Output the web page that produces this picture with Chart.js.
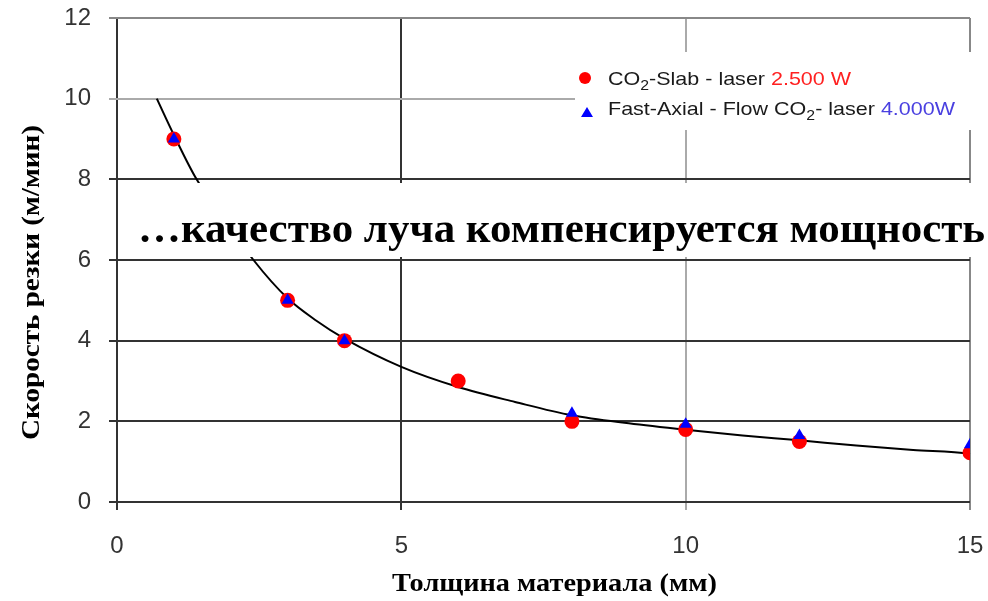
<!DOCTYPE html>
<html>
<head>
<meta charset="utf-8">
<script src="https://cdn.jsdelivr.net/npm/chart.js@4"></script>
<style>
  html, body { margin: 0; padding: 0; background: #fff; }
  #wrap { width: 988px; height: 601px; }
</style>
</head>
<body>
<div id="wrap"><canvas id="chart" width="988" height="601"></canvas></div>
<script>
// measured points (thickness mm, speed m/min)
const slabThickness = [1, 3, 4, 6, 8, 10, 12, 15];
const slabSpeed = [9, 5, 4, 3, 2, 1.8, 1.5, 1.22];
const axialThickness = [1, 3, 4, 8, 10, 12, 15];
const axialSpeed = [9, 5, 4, 2.2, 1.93, 1.65, 1.42];
// fitted curve
const fitThickness = [0.7, 1, 1.4, 2.4, 3, 3.5, 4, 5, 6, 7, 8, 9, 10, 11, 12, 13, 14, 15, 15.13];
const fitSpeed = [10, 9.1, 8.0, 6.0, 5.05, 4.5, 4.05, 3.35, 2.85, 2.48, 2.15, 1.95, 1.79, 1.65, 1.53, 1.4, 1.29, 1.19, 1.14];

const xTicks = [0, 5, 10, 15];
const yTicks = [0, 2, 4, 6, 8, 10, 12];

const xTitle = "Толщина материала (мм)";
const yTitle = "Скорость резки (м/мин)";
const overlayText = "…качество луча компенсируется мощность";

const toPoints = (xs, ys) => xs.map((x, i) => ({ x: x, y: ys[i] }));

// grid line colours (some lines are lighter in the original)
const xGrid = { 0: "#333", 5: "#333", 10: "#aaa", 15: "#888" };
const yGrid = { 0: "#333", 2: "#333", 4: "#333", 6: "#333", 8: "#333", 10: "#aaa", 12: "#888" };

// text in the original is a bit stretched sideways, so fit it to a width
const fitText = (ctx, text, x, y, width) => {
  const w = ctx.measureText(text).width;
  ctx.save();
  ctx.translate(x, y);
  ctx.scale(width / w, 1);
  ctx.fillText(text, 0, 0);
  ctx.restore();
};

const legendRows = [
  [{ t: "CO" }, { t: "2", sub: true }, { t: "-Slab - laser " }, { t: "2.500 W", color: "#ff2020" }],
  [{ t: "Fast-Axial - Flow CO" }, { t: "2", sub: true }, { t: "- laser " }, { t: "4.000W", color: "#4a40e0" }]
];

// draws the legend, overlay caption and axis titles
const extrasPlugin = {
  id: "extras",
  afterDraw(chart) {
    const ctx = chart.ctx;
    ctx.save();
    ctx.textBaseline = "alphabetic";

    // legend box
    ctx.fillStyle = "#fff";
    ctx.fillRect(575, 52, 398, 78);

    ctx.fillStyle = "#ff0000";
    ctx.beginPath();
    ctx.arc(585, 78, 6, 0, Math.PI * 2);
    ctx.fill();

    ctx.fillStyle = "#0000ff";
    ctx.beginPath();
    ctx.moveTo(587, 107);
    ctx.lineTo(593, 117);
    ctx.lineTo(581, 117);
    ctx.closePath();
    ctx.fill();

    const setFont = (p) => { ctx.font = p.sub ? "14px 'Liberation Sans'" : "19px 'Liberation Sans'"; };
    const rowWidth = (parts) => parts.reduce((s, p) => { setFont(p); return s + ctx.measureText(p.t).width; }, 0);
    const sx = 347 / rowWidth(legendRows[1]);
    legendRows.forEach((parts, i) => {
      ctx.save();
      ctx.translate(608, 85 + i * 30);
      ctx.scale(sx, 1);
      let cx = 0;
      parts.forEach((p) => {
        setFont(p);
        ctx.fillStyle = p.color || "#1a1a1a";
        ctx.fillText(p.t, cx, p.sub ? 5 : 0);
        cx += ctx.measureText(p.t).width;
      });
      ctx.restore();
    });

    // overlay caption with white background
    ctx.fillStyle = "#fff";
    ctx.fillRect(130, 183, 858, 74);
    ctx.fillStyle = "#000";
    ctx.font = "bold 42px 'Liberation Serif'";
    fitText(ctx, overlayText, 138, 242, 847);

    // axis titles
    ctx.font = "bold 25px 'Liberation Serif'";
    fitText(ctx, xTitle, 392, 591, 325);

    ctx.translate(39, 440);
    ctx.rotate(-Math.PI / 2);
    fitText(ctx, yTitle, 0, 0, 315);

    ctx.restore();
  }
};

new Chart(document.getElementById("chart"), {
  type: "scatter",
  data: {
    datasets: [
      {
        label: "Fast-Axial - Flow CO2- laser 4.000W",
        data: toPoints(axialThickness, axialSpeed),
        pointStyle: "triangle",
        pointRadius: 7,
        backgroundColor: "#0000ff",
        borderWidth: 0,
        order: 0
      },
      {
        label: "CO2-Slab - laser 2.500 W",
        data: toPoints(slabThickness, slabSpeed),
        pointRadius: 7.5,
        backgroundColor: "#ff0000",
        borderWidth: 0,
        order: 1
      },
      {
        label: "fit",
        data: toPoints(fitThickness, fitSpeed),
        showLine: true,
        cubicInterpolationMode: "monotone",
        borderColor: "#000",
        borderWidth: 2,
        pointRadius: 0,
        clip: 12,
        order: 2
      }
    ]
  },
  options: {
    responsive: false,
    animation: false,
    layout: { padding: { top: 18, right: 18, left: 0, bottom: 0 } },
    plugins: {
      legend: { display: false },
      tooltip: { enabled: false }
    },
    scales: {
      x: {
        type: "linear",
        min: 0,
        max: 15,
        afterBuildTicks: (scale) => { scale.ticks = xTicks.map((v) => ({ value: v })); },
        afterFit: (scale) => {
          scale.height = 99;
          scale.paddingLeft = 0;
          scale.paddingRight = 0;
        },
        ticks: {
          color: "#333",
          font: { family: "'Liberation Sans'", size: 24 },
          padding: 22
        },
        grid: {
          color: (c) => xGrid[c.tick.value] || "#333",
          tickColor: (c) => xGrid[c.tick.value] || "#333",
          lineWidth: 2,
          tickLength: 8
        },
        border: { display: false }
      },
      y: {
        min: 0,
        max: 12,
        afterBuildTicks: (scale) => { scale.ticks = yTicks.map((v) => ({ value: v })); },
        afterFit: (scale) => {
          scale.width = 117;
          scale.paddingTop = 0;
          scale.paddingBottom = 0;
        },
        ticks: {
          color: "#333",
          font: { family: "'Liberation Sans'", size: 24 },
          padding: 18
        },
        grid: {
          color: (c) => yGrid[c.tick.value] || "#333",
          tickColor: (c) => yGrid[c.tick.value] || "#333",
          lineWidth: 2,
          tickLength: 8
        },
        border: { display: false }
      }
    }
  },
  plugins: [extrasPlugin]
});
</script>
</body>
</html>
